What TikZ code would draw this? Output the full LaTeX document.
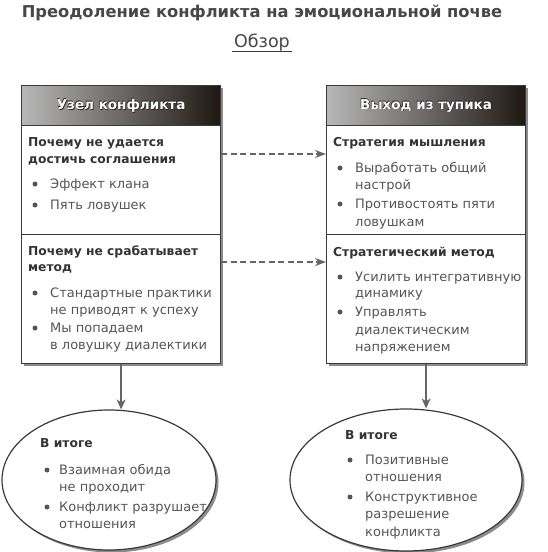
\documentclass[tikz,border=0pt]{standalone}
\usepackage{fontspec}
\setmainfont{DejaVu Sans}
\usetikzlibrary{shapes.geometric,shadows,arrows.meta}
\definecolor{txt}{HTML}{555555}
\definecolor{hdtxt}{HTML}{333333}
\definecolor{frame}{HTML}{3a3a3a}
\definecolor{arr}{HTML}{666666}
\definecolor{hdark}{HTML}{1e1813}
\definecolor{hmid}{HTML}{6a625c}
\definecolor{hlight}{HTML}{b8b8b8}
\definecolor{ttl}{HTML}{474747}
\tikzset{
  box/.style={draw=frame, line width=1.2pt, fill=white,
    drop shadow={shadow xshift=2.5pt, shadow yshift=-2.5pt, opacity=0.45, fill=black}},
  hdr/.style={draw=frame, line width=1.2pt, left color=hlight, middle color=hmid, right color=hdark,
    inner sep=0, minimum width=199pt, minimum height=40pt, anchor=north west},
  hdrtxt/.style={font=\bfseries\fontsize{13.5}{15}\selectfont, text=white},
  hdrsh/.style={font=\bfseries\fontsize{13.5}{15}\selectfont, text=black!85},
  hd/.style={font=\bfseries\fontsize{12.3}{14}\selectfont, text=hdtxt, anchor=base west, inner sep=0},
  it/.style={font=\fontsize{13}{16}\selectfont, text=txt, anchor=base west, inner sep=0},
  dotst/.style={circle, fill=txt, inner sep=0, minimum size=5pt},
  divl/.style={draw=frame, line width=0.8pt},
  dasharr/.style={draw=arr, line width=1.5pt, dash pattern=on 6pt off 3.5pt,
    -{Stealth[length=11pt,width=8pt]}},
  downarr/.style={draw=arr, line width=1.4pt, -{Stealth[length=10pt,width=9pt,inset=3pt]}},
  ell/.style={ellipse, draw=frame, line width=1.2pt, fill=white, inner sep=0,
    drop shadow={shadow xshift=2.5pt, shadow yshift=-2.5pt, opacity=0.45, fill=black}},
}
\begin{document}
\begin{tikzpicture}[x=1pt,y=-1pt]
\useasboundingbox (0,0) rectangle (548,552);
\fill[white] (0,0) rectangle (548,552);
% title
\node[font=\bfseries\fontsize{16.3}{19}\selectfont, text=ttl, anchor=base, inner sep=0] (title) at (262,17) {Преодоление конфликта на эмоциональной почве};
\node[font=\fontsize{17.5}{20}\selectfont, text=ttl, anchor=base, inner xsep=1.5pt, inner ysep=1pt] (sub) at (262,47) {Обзор};
\draw[draw=frame, line width=0.9pt] (sub.south west) -- (sub.south east);
% boxes
\node[box, anchor=north west, minimum width=199pt, minimum height=278pt, inner sep=0] (lbox) at (21,85) {};
\node[box, anchor=north west, minimum width=199pt, minimum height=278pt, inner sep=0] (rbox) at (326,85) {};
\node[hdr] (lhdr) at (21,85) {};
\node[hdr] (rhdr) at (326,85) {};
\node[hdrsh] (lhs1) at ([shift={(0.7pt,-0.7pt)}]lhdr.center) {Узел конфликта};
\node[hdrsh] (lhs2) at ([shift={(-0.5pt,0.5pt)}]lhdr.center) {Узел конфликта};
\node[hdrtxt] (lht) at (lhdr.center) {Узел конфликта};
\node[hdrsh] (rhs1) at ([shift={(0.7pt,-0.7pt)}]rhdr.center) {Выход из тупика};
\node[hdrsh] (rhs2) at ([shift={(-0.5pt,0.5pt)}]rhdr.center) {Выход из тупика};
\node[hdrtxt] (rht) at (rhdr.center) {Выход из тупика};
% dividers
\coordinate (dv) at (0,234);
\draw[divl] (lbox.west |- dv) -- (lbox.east |- dv);
\draw[divl] (rbox.west |- dv) -- (rbox.east |- dv);
% left box text
\node[hd] (l1a) at (28,146) {Почему не удается};
\node[hd] (l1b) at (28,163) {достичь соглашения};
\node[dotst] (ld1) at (35,184) {};
\node[it] (l1c) at (50,188) {Эффект клана};
\node[dotst] (ld2) at (35,205) {};
\node[it] (l1d) at (50,209) {Пять ловушек};
\node[hd] (l2a) at (28,255) {Почему не срабатывает};
\node[hd] (l2b) at (28,271) {метод};
\node[dotst] (ld3) at (35,293) {};
\node[it] (l2c) at (50,297) {Стандартные практики};
\node[it] (l2d) at (50,314) {не приводят к успеху};
\node[dotst] (ld4) at (35,328) {};
\node[it] (l2e) at (50,332) {Мы попадаем};
\node[it] (l2f) at (50,349) {в ловушку диалектики};
% right box text
\node[hd] (r1a) at (333,146) {Стратегия мышления};
\node[dotst] (rd1) at (340,168) {};
\node[it] (r1b) at (355,172) {Выработать общий};
\node[it] (r1c) at (355,189) {настрой};
\node[dotst] (rd2) at (340,204) {};
\node[it] (r1d) at (355,208) {Противостоять пяти};
\node[it] (r1e) at (355,226) {ловушкам};
\node[hd] (r2a) at (333,256) {Стратегический метод};
\node[dotst] (rd3) at (340,277) {};
\node[it] (r2b) at (355,281) {Усилить интегративную};
\node[it] (r2c) at (355,297) {динамику};
\node[dotst] (rd4) at (340,312) {};
\node[it] (r2d) at (355,316) {Управлять};
\node[it] (r2e) at (355,334) {диалектическим};
\node[it] (r2f) at (355,351) {напряжением};
% dashed arrows
\coordinate (da) at (0,154);
\coordinate (db) at (0,262);
\draw[dasharr] (lbox.east |- da) -- (rbox.west |- da);
\draw[dasharr] (lbox.east |- db) -- (rbox.west |- db);
% ellipses
\node[ell, minimum width=214pt, minimum height=140pt] (lell) at (109,480) {};
\node[ell, minimum width=232pt, minimum height=142pt] (rell) at (406,480) {};
\draw[downarr] (lbox.south) -- (lbox.south |- lell.north);
\draw[downarr] (rbox.south) -- (rbox.south |- rell.north);
% left ellipse text
\node[hd] (e1a) at (40,447) {В итоге};
\node[dotst] (ed1) at (47,470) {};
\node[it] (e1b) at (59,474) {Взаимная обида};
\node[it] (e1c) at (59,491) {не проходит};
\node[dotst] (ed2) at (47,507) {};
\node[it] (e1d) at (59,511) {Конфликт разрушает};
\node[it] (e1e) at (59,528) {отношения};
% right ellipse text
\node[hd] (e2a) at (345,439) {В итоге};
\node[dotst] (ed3) at (350,460) {};
\node[it] (e2b) at (365,464) {Позитивные};
\node[it] (e2c) at (365,481) {отношения};
\node[dotst] (ed4) at (350,497) {};
\node[it] (e2d) at (365,501) {Конструктивное};
\node[it] (e2e) at (365,518) {разрешение};
\node[it] (e2f) at (365,536) {конфликта};
\end{tikzpicture}
\end{document}
